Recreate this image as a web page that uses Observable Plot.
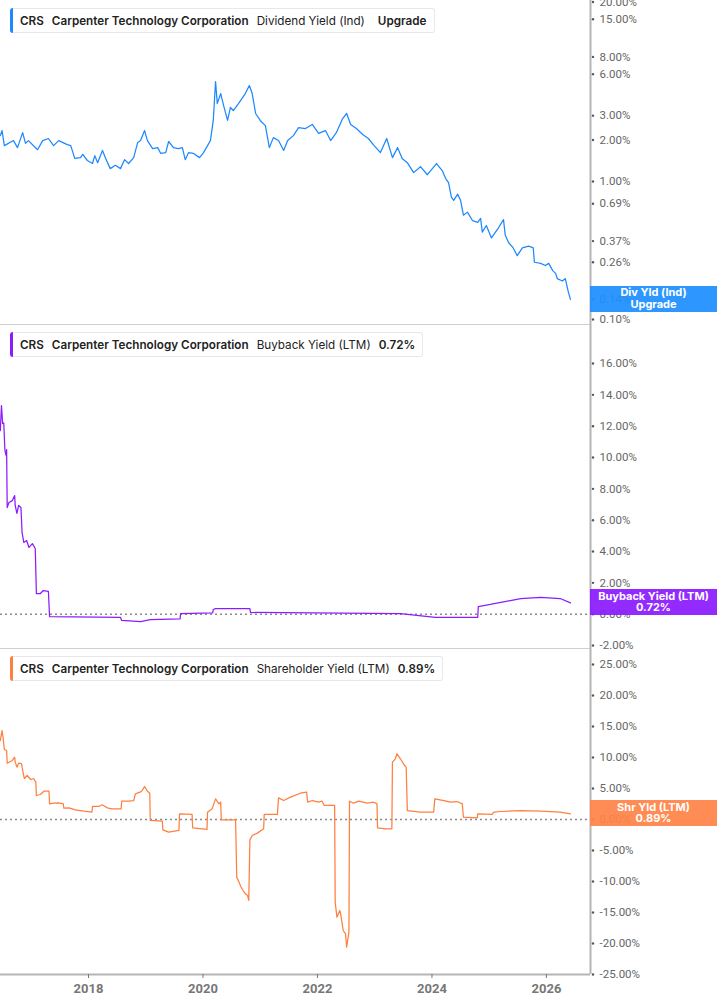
<!DOCTYPE html>
<html>
<head>
<meta charset="utf-8">
<script src="https://cdn.jsdelivr.net/npm/d3@7"></script>
<script src="https://cdn.jsdelivr.net/npm/@observablehq/plot@0.6"></script>
<style>
  body { margin: 0; background: #fff; }
  #wrap { position: relative; width: 717px; height: 1005px; overflow: hidden; background: #fff; }
  #wrap svg { display: block; overflow: visible; }
  .legend { position: absolute; left: 10px; height: 25px; box-sizing: border-box;
    border: 1px solid #e8e8e8; border-left: none; border-radius: 3px; background: #fff;
    display: flex; align-items: center; font-family: Inter, "Noto Sans", sans-serif;
    font-size: 11.7px; color: #222; white-space: nowrap; padding-right: 7px; }
  .legend .bar { width: 3px; align-self: stretch; border-radius: 3px 0 0 3px; margin: -1px 7px -1px 0; }
  .legend .b { font-weight: 600; margin-right: 8px; }
  .legend .r { font-weight: 400; margin-right: 8px; }
  .legend .last { margin-right: 0; }
  .tag { position: absolute; left: 590px; width: 127px; height: 26px; color: #fff;
    font-family: Inter, Roboto, sans-serif; font-weight: 700; font-size: 11px; line-height: 11.5px;
    text-align: center; box-sizing: border-box; padding-top: 1.5px; opacity: 0.93; }
</style>
</head>
<body>
<div id="wrap"></div>
<script>
// ---------- data (decimal year, percent) ----------
const dividendYield = [
  [2016.46,2.15],[2016.49,2.34],[2016.53,1.82],[2016.69,1.98],[2016.76,1.76],[2016.85,2.26],[2016.90,1.89],[2016.95,1.98],[2017.11,1.70],[2017.20,1.98],
  [2017.30,2.05],[2017.39,1.82],[2017.48,1.98],[2017.63,1.85],[2017.69,1.82],[2017.76,1.47],[2017.86,1.49],[2017.90,1.57],[2017.98,1.42],[2018.07,1.35],
  [2018.11,1.54],[2018.16,1.37],[2018.245,1.68],[2018.30,1.47],[2018.38,1.24],[2018.47,1.31],[2018.56,1.24],[2018.63,1.44],[2018.70,1.35],[2018.79,1.49],
  [2018.86,1.92],[2018.91,1.98],[2018.98,2.34],[2019.03,1.98],[2019.12,1.73],[2019.21,1.76],[2019.26,1.60],[2019.35,1.62],[2019.40,1.95],[2019.485,1.76],
  [2019.57,1.73],[2019.64,1.76],[2019.69,1.44],[2019.75,1.62],[2019.83,1.60],[2019.94,1.49],[2020.01,1.62],[2020.08,1.82],[2020.13,1.98],[2020.18,2.77],
  [2020.22,5.30],[2020.25,3.67],[2020.31,4.34],[2020.36,3.56],[2020.43,2.77],[2020.48,3.44],[2020.53,3.27],[2020.62,3.67],[2020.74,4.34],[2020.81,4.96],
  [2020.86,4.34],[2020.92,3.11],[2021.00,2.77],[2021.09,2.54],[2021.16,1.76],[2021.23,2.08],[2021.32,1.98],[2021.41,1.68],[2021.48,1.98],[2021.58,2.15],
  [2021.67,2.46],[2021.79,2.42],[2021.91,2.59],[2022.02,2.23],[2022.14,2.34],[2022.23,1.98],[2022.33,2.26],[2022.44,2.86],[2022.51,3.11],[2022.58,2.59],
  [2022.68,2.42],[2022.79,2.19],[2022.89,2.05],[2022.99,1.82],[2023.10,1.62],[2023.21,2.05],[2023.31,1.49],[2023.40,1.76],[2023.48,1.47],[2023.57,1.37],
  [2023.68,1.16],[2023.80,1.28],[2023.92,1.12],[2024.08,1.35],[2024.18,1.20],[2024.24,1.05],[2024.29,0.98],[2024.34,0.77],[2024.38,0.73],[2024.45,0.81],
  [2024.50,0.73],[2024.55,0.57],[2024.62,0.60],[2024.71,0.52],[2024.80,0.505],[2024.85,0.54],[2024.88,0.43],[2024.95,0.48],[2025.04,0.39],[2025.11,0.43],
  [2025.16,0.46],[2025.25,0.53],[2025.28,0.41],[2025.34,0.36],[2025.42,0.33],[2025.49,0.29],[2025.58,0.33],[2025.69,0.34],[2025.77,0.33],[2025.79,0.26],
  [2025.90,0.255],[2025.98,0.246],[2026.04,0.255],[2026.11,0.226],[2026.16,0.216],[2026.19,0.198],[2026.28,0.19],[2026.33,0.198],[2026.38,0.16],[2026.42,0.14]
];
const buybackYield = [
  [2016.46,11.72],[2016.48,13.32],[2016.50,12.17],[2016.52,12.2],[2016.54,10.45],[2016.56,10.13],[2016.57,10.5],[2016.58,6.8],[2016.61,7.13],[2016.67,7.25],
  [2016.71,7.57],[2016.72,6.94],[2016.75,6.43],[2016.78,6.94],[2016.82,6.81],[2016.84,5.21],[2016.87,4.58],[2016.92,4.70],[2016.96,4.26],[2017.02,4.5],
  [2017.07,4.19],[2017.09,1.32],[2017.16,1.32],[2017.21,1.51],[2017.30,1.45],[2017.32,-0.15],[2018.56,-0.21],[2018.58,-0.40],[2018.91,-0.47],[2019.08,-0.34],
  [2019.60,-0.30],[2019.61,0.04],[2020.17,0.08],[2020.18,0.30],[2020.22,0.36],[2020.82,0.36],[2020.83,0.11],[2023.45,0.04],[2024.06,-0.21],[2024.80,-0.21],
  [2024.81,0.49],[2025.02,0.62],[2025.37,0.87],[2025.55,1.0],[2025.90,1.07],[2026.24,1.0],[2026.42,0.72]
];
const shareholderYield = [
  [2016.46,12.74],[2016.49,14.35],[2016.51,13.06],[2016.53,11.29],[2016.57,11.13],[2016.58,9.08],[2016.67,9.52],[2016.71,10.05],[2016.72,9.25],[2016.75,8.44],
  [2016.78,9.08],[2016.83,9.03],[2016.86,7.42],[2016.88,6.61],[2016.93,7.1],[2016.99,6.45],[2017.04,6.61],[2017.08,6.02],[2017.09,3.87],[2017.16,4.03],
  [2017.22,4.56],[2017.31,4.56],[2017.32,2.53],[2017.39,2.63],[2017.48,2.69],[2017.56,2.53],[2017.57,1.83],[2017.66,1.88],[2017.77,1.56],[2017.92,1.34],
  [2018.06,1.18],[2018.07,2.1],[2018.18,2.1],[2018.24,2.37],[2018.33,1.88],[2018.41,1.72],[2018.57,1.72],[2018.58,2.95],[2018.70,2.95],[2018.79,3.06],
  [2018.82,4.14],[2018.90,4.41],[2018.94,4.68],[2018.98,5.32],[2019.03,4.56],[2019.07,4.24],[2019.08,-0.16],[2019.29,-0.27],[2019.30,-1.67],[2019.40,-2.04],
  [2019.58,-1.77],[2019.59,0.91],[2019.81,0.81],[2019.82,-1.34],[2020.07,-1.61],[2020.08,1.18],[2020.16,1.72],[2020.22,3.33],[2020.28,2.53],[2020.31,2.79],
  [2020.32,-0.05],[2020.57,-0.05],[2020.59,-9.3],[2020.63,-10.1],[2020.66,-10.8],[2020.70,-11.45],[2020.74,-11.99],[2020.78,-12.26],[2020.80,-13.06],[2020.82,-3.28],
  [2020.86,-2.58],[2020.95,-2.2],[2021.06,-1.5],[2021.07,0.81],[2021.30,0.81],[2021.32,3.49],[2021.41,3.06],[2021.53,3.6],[2021.70,4.24],[2021.81,4.41],
  [2021.83,2.79],[2021.91,3.06],[2022.02,2.79],[2022.08,2.95],[2022.12,2.26],[2022.30,2.26],[2022.31,-13.34],[2022.34,-15.76],[2022.39,-14.68],[2022.41,-15.48],
  [2022.45,-17.9],[2022.49,-18.44],[2022.51,-20.6],[2022.55,-18.17],[2022.56,2.95],[2022.63,2.63],[2022.72,2.95],[2022.87,2.63],[2022.98,2.79],[2023.04,2.53],
  [2023.05,-1.34],[2023.19,-1.5],[2023.30,-1.5],[2023.31,9.25],[2023.36,9.79],[2023.39,10.6],[2023.45,9.79],[2023.51,8.87],[2023.55,8.44],[2023.57,1.45],
  [2023.80,1.18],[2024.03,1.18],[2024.05,3.33],[2024.21,3.06],[2024.32,2.79],[2024.44,2.9],[2024.53,2.53],[2024.55,0.37],[2024.79,0.27],[2024.80,0.91],
  [2025.05,0.81],[2025.08,1.18],[2025.20,1.29],[2025.55,1.45],[2025.90,1.35],[2026.24,1.2],[2026.42,0.89]
];

const yearTicks = [2018, 2020, 2022, 2024, 2026];
const divTicks = [20, 15, 8, 6, 3, 2, 1, 0.69, 0.37, 0.26, 0.14, 0.10];
const buybackTicks = [16, 14, 12, 10, 8, 6, 4, 2, 0, -2];
const shareholderTicks = [25, 20, 15, 10, 5, 0, -5, -10, -15, -20, -25];

const ticker = "CRS";
const company = "Carpenter Technology Corporation";
const metricNames = ["Dividend Yield (Ind)", "Buyback Yield (LTM)", "Shareholder Yield (LTM)"];
const metricValues = ["Upgrade", "0.72%", "0.89%"];
const tagLines = [["Div Yld (Ind)", "Upgrade"], ["Buyback Yield (LTM)", "0.72%"], ["Shr Yld (LTM)", "0.89%"]];
const colors = ["#1E88FF", "#8B1CFF", "#FF7F3F"];
const tagColors = ["#1E90FF", "#8B1CFF", "#FF8448"];

// ---------- layout ----------
const W = 717, MR = 127;
const xDomain = [2016.463, 2026.77];
const fmtPct = d => d.toFixed(2) + "%";
const wrap = document.getElementById("wrap");

function makePanel({height, marginBottom = 0, yScale, ticks, data, color, zero, xAxis}) {
  const yMin = yScale.domain[0];
  const xMax = xDomain[1];
  const marks = [];
  if (xAxis) {
    marks.push(Plot.ruleY([yMin], {stroke: "#b5b5b5", strokeWidth: 2}));
    marks.push(Plot.axisX({ticks: yearTicks, tickFormat: d => String(d), tickSize: 4, tickPadding: 5,
      color: "#777", fontSize: 13, fontWeight: "bold"}));
  } else {
    marks.push(Plot.ruleY([yMin], {stroke: "#cfcfcf", strokeWidth: 1}));
  }
  if (zero) marks.push(Plot.ruleY([0], {stroke: "#8a8a8a", strokeWidth: 1.5, strokeDasharray: "2,3"}));
  marks.push(Plot.ruleX([xMax], {stroke: "#b5b5b5", strokeWidth: 2}));
  // y tick marks and labels (right side)
  marks.push(Plot.dot(ticks, {x: xMax, y: d => d, r: 1.2, fill: "#555", stroke: null, dx: 2.5}));
  marks.push(Plot.text(ticks, {x: xMax, y: d => d, text: fmtPct, textAnchor: "start", dx: 9,
    fill: "#666", fontSize: 11.5}));
  marks.push(Plot.line(data, {x: d => d[0], y: d => d[1], stroke: color, strokeWidth: 1.25}));
  return Plot.plot({
    width: W, height, marginLeft: 0, marginRight: MR, marginTop: 0, marginBottom,
    style: {fontFamily: "Roboto, sans-serif", fontSize: "11.5px", background: "transparent", overflow: "visible"},
    x: {domain: xDomain, axis: xAxis ? undefined : null},
    y: {...yScale, axis: null},
    marks
  });
}

const specs = [
  {height: 324, yScale: {type: "log", domain: [0.092, 20.5]}, ticks: divTicks, data: dividendYield, zero: false},
  {height: 324, yScale: {type: "linear", domain: [-2.19, 18.49]}, ticks: buybackTicks, data: buybackYield, zero: true},
  {height: 357, marginBottom: 31, yScale: {type: "linear", domain: [-25, 27.58]}, ticks: shareholderTicks, data: shareholderYield, zero: true, xAxis: true}
];

let panelTop = 0;
specs.forEach((s, i) => {
  const plot = makePanel({...s, color: colors[i]});
  wrap.appendChild(plot);

  // legend box
  const lg = document.createElement("div");
  lg.className = "legend";
  lg.style.top = (panelTop + 8) + "px";
  lg.innerHTML = `<span class="bar" style="background:${colors[i]}"></span>` +
    `<span class="b">${ticker}</span><span class="b">${company}</span>` +
    `<span class="r"${i === 0 ? ' style="margin-right:13px"' : ''}>${metricNames[i]}</span>` +
    `<span class="b last">${metricValues[i]}</span>`;
  wrap.appendChild(lg);

  // value tag at last point
  const last = s.data[s.data.length - 1][1];
  const ys = plot.scale("y");
  let yc;
  if (ys && ys.apply) yc = ys.apply(last);
  else {
    const sc = (s.yScale.type === "log" ? d3.scaleLog() : d3.scaleLinear())
      .domain(s.yScale.domain).range([s.height - (s.marginBottom || 0), 0]);
    yc = sc(last);
  }
  const tag = document.createElement("div");
  tag.className = "tag";
  tag.style.background = tagColors[i];
  tag.style.top = (panelTop + yc - 13) + "px";
  tag.innerHTML = tagLines[i].join("<br>");
  wrap.appendChild(tag);

  panelTop += s.height;
});
</script>
</body>
</html>
